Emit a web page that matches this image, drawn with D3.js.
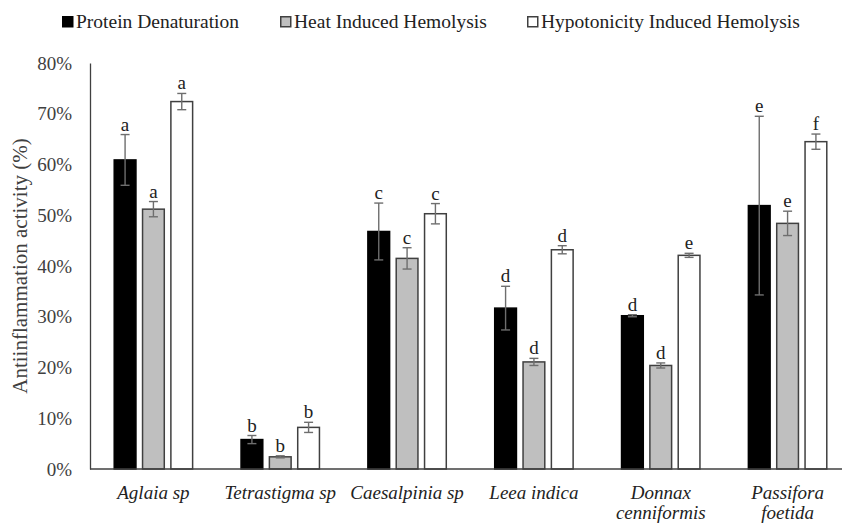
<!DOCTYPE html>
<html>
<head>
<meta charset="utf-8">
<script src="https://cdn.jsdelivr.net/npm/d3@7"></script>
<style>
  body { margin: 0; background: #fff; }
  svg text { font-family: "Liberation Serif", "Times New Roman", serif; }
</style>
</head>
<body>
<div id="chart"></div>
<script>
// data
const categories = ["Aglaia sp", "Tetrastigma sp", "Caesalpinia sp", "Leea indica", "Donnax cenniformis", "Passifora foetida"];
const seriesNames = ["Protein Denaturation", "Heat Induced Hemolysis", "Hypotonicity Induced Hemolysis"];
const proteinDenat = [60.9, 5.8, 46.8, 31.7, 30.2, 51.9];
const proteinDenatErr = [5.0, 0.8, 5.6, 4.3, 0.2, 17.6];
const heatHemolysis = [51.2, 2.4, 41.5, 21.1, 20.4, 48.4];
const heatHemolysisErr = [1.5, 0.2, 2.1, 0.7, 0.5, 2.4];
const hypoHemolysis = [72.4, 8.2, 50.3, 43.2, 42.1, 64.5];
const hypoHemolysisErr = [1.6, 1.0, 2.0, 0.8, 0.4, 1.5];
const proteinLetters = ["a", "b", "c", "d", "d", "e"];
const heatLetters = ["a", "b", "c", "d", "d", "e"];
const hypoLetters = ["a", "b", "c", "d", "e", "f"];
const yTicks = [0, 10, 20, 30, 40, 50, 60, 70, 80];

const width = 842, height = 523;
const margin = {top: 63, right: -9, bottom: 54, left: 90};

const fills = ["#000000", "#bfbfbf", "#ffffff"];
const strokeCol = "#404040";

const svg = d3.select("#chart").append("svg")
  .attr("width", width)
  .attr("height", height);

// one row per category
const rows = categories.map((c, i) => ({
  cat: c,
  vals: [
    {s: 0, v: proteinDenat[i], e: proteinDenatErr[i], l: proteinLetters[i]},
    {s: 1, v: heatHemolysis[i], e: heatHemolysisErr[i], l: heatLetters[i]},
    {s: 2, v: hypoHemolysis[i], e: hypoHemolysisErr[i], l: hypoLetters[i]}
  ]
}));

// scales
const x0 = d3.scaleBand()
  .domain(categories)
  .range([margin.left, width - margin.right])
  .paddingInner(0.37)
  .paddingOuter(0.185);

const x1 = d3.scaleBand()
  .domain([0, 1, 2])
  .range([0, x0.bandwidth()])
  .paddingInner(0.18);

const y = d3.scaleLinear()
  .domain([0, 80])
  .range([height - margin.bottom, margin.top]);

// y axis
const yAxis = svg.append("g")
  .attr("transform", `translate(${margin.left},0)`)
  .call(d3.axisLeft(y).tickValues(yTicks).tickSize(0).tickPadding(18).tickFormat(d => d + "%"));
yAxis.select(".domain").attr("stroke", strokeCol).attr("stroke-width", 1.3);
yAxis.selectAll("text")
  .attr("fill", "#404040")
  .style("font-size", "19px")
  .style("font-family", "Liberation Serif, serif");

// axis title
svg.append("text")
  .attr("transform", `translate(27,${(y(0) + y(80)) / 2}) rotate(-90)`)
  .attr("text-anchor", "middle")
  .attr("fill", "#404040")
  .style("font-size", "21px")
  .text("Antiinflammation activity (%)");

// groups of bars
const groups = svg.append("g")
  .selectAll("g")
  .data(rows)
  .join("g")
  .attr("transform", d => `translate(${x0(d.cat)},0)`);

groups.selectAll("rect")
  .data(d => d.vals)
  .join("rect")
  .attr("x", d => x1(d.s) + 0.75)
  .attr("y", d => y(d.v))
  .attr("width", x1.bandwidth() - 1.5)
  .attr("height", d => y(0) - y(d.v))
  .attr("fill", d => fills[d.s])
  .attr("stroke", d => d.s === 0 ? "#000" : strokeCol)
  .attr("stroke-width", 1.5);

// error bars
const err = groups.selectAll("g.err")
  .data(d => d.vals)
  .join("g")
  .attr("class", "err")
  .attr("stroke", "#6e6e6e")
  .attr("stroke-width", 1.4);

const cx = d => x1(d.s) + x1.bandwidth() / 2;
const capW = 4.5;

err.append("line")
  .attr("x1", cx).attr("x2", cx)
  .attr("y1", d => y(d.v + d.e))
  .attr("y2", d => y(d.v - d.e));
err.append("line")
  .attr("x1", d => cx(d) - capW).attr("x2", d => cx(d) + capW)
  .attr("y1", d => y(d.v + d.e)).attr("y2", d => y(d.v + d.e));
err.append("line")
  .attr("x1", d => cx(d) - capW).attr("x2", d => cx(d) + capW)
  .attr("y1", d => y(d.v - d.e)).attr("y2", d => y(d.v - d.e));

// significance letters
groups.selectAll("text.sig")
  .data(d => d.vals)
  .join("text")
  .attr("class", "sig")
  .attr("x", cx)
  .attr("y", d => y(d.v + d.e) - 4)
  .attr("text-anchor", "middle")
  .attr("fill", "#222")
  .style("font-size", "19px")
  .text(d => d.l);

// x axis line
svg.append("line")
  .attr("x1", margin.left)
  .attr("x2", width - margin.right)
  .attr("y1", y(0))
  .attr("y2", y(0))
  .attr("stroke", strokeCol)
  .attr("stroke-width", 1.3);

// category labels, wrapped when wider than one step
const catLabels = svg.append("g")
  .selectAll("text")
  .data(categories)
  .join("text")
  .attr("x", d => x0(d) + x0.bandwidth() / 2)
  .attr("y", y(0) + 30)
  .attr("text-anchor", "middle")
  .attr("fill", "#222")
  .style("font-size", "19px")
  .style("font-style", "italic");

catLabels.each(function(d) {
  const t = d3.select(this);
  t.text(d);
  if (this.getComputedTextLength() > x0.step()) {
    const words = d.split(" ");
    t.text(null);
    words.forEach((w, i) => {
      t.append("tspan")
        .attr("x", x0(d) + x0.bandwidth() / 2)
        .attr("dy", i === 0 ? 0 : 20)
        .text(w);
    });
  }
});

// legend
const legendX = [62, 280, 527];
const legend = svg.append("g")
  .selectAll("g")
  .data(seriesNames)
  .join("g")
  .attr("transform", (d, i) => `translate(${legendX[i]},16)`);

legend.append("rect")
  .attr("x", 0.75).attr("y", 0.75)
  .attr("width", 10).attr("height", 10)
  .attr("fill", (d, i) => fills[i])
  .attr("stroke", (d, i) => i === 0 ? "#000" : strokeCol)
  .attr("stroke-width", 1.5);

legend.append("text")
  .attr("x", 14)
  .attr("y", 12)
  .attr("fill", "#222")
  .style("font-size", "19.5px")
  .text(d => d);
</script>
</body>
</html>
